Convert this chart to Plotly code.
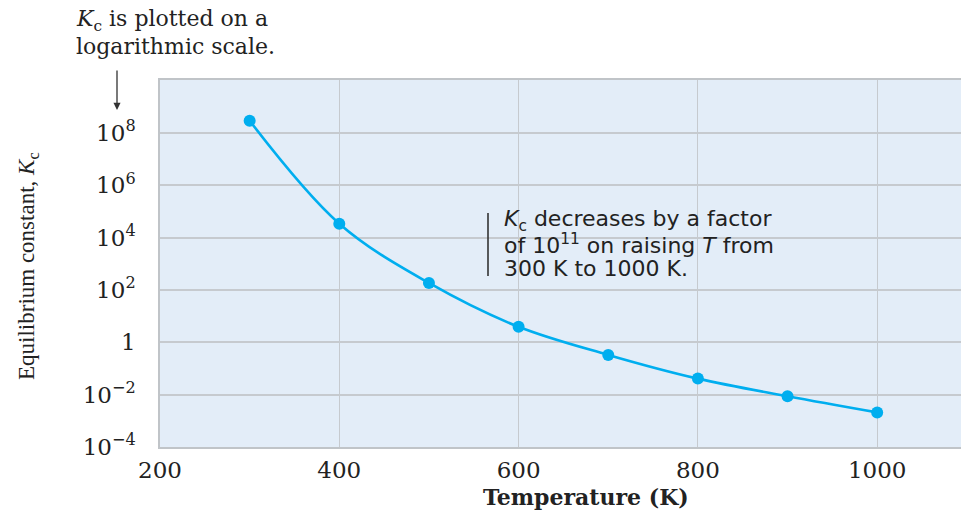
import plotly.graph_objects as go

# Data
temperature_K = [300, 400, 500, 600, 700, 800, 900, 1000]
Kc = [2.9e8, 3.4e4, 185, 3.9, 0.33, 0.041, 0.0087, 0.0021]

y_tickvals = [1e-4, 1e-2, 1, 1e2, 1e4, 1e6, 1e8]
y_ticktext = ["10<sup>−4</sup>", "10<sup>−2</sup>", "1", "10<sup>2</sup>",
              "10<sup>4</sup>", "10<sup>6</sup>", "10<sup>8</sup>"]
x_tickvals = [200, 400, 600, 800, 1000]

top_note_lines = ["<i>K</i><sub>c</sub> is plotted on a", "logarithmic scale."]
plot_note_lines = ["<i>K</i><sub>c</sub> decreases by a factor",
                   "of 10<sup>11</sup> on raising <i>T</i> from",
                   "300 K to 1000 K."]

LINE_COLOR = "#00aeef"
GRID = "#c6cacf"
SERIF = "DejaVu Serif"
TEXT = "#222222"

# plot area in pixels: left 160, top 80, bottom 447, height 367, width 801
def px_x(p):
    return (p - 160) / 801.0

def px_y(p):
    return (447 - p) / 367.0

fig = go.Figure()
fig.add_trace(go.Scatter(
    x=temperature_K, y=Kc, mode="lines+markers",
    line=dict(color=LINE_COLOR, width=2.6, shape="spline", smoothing=1.0),
    marker=dict(color=LINE_COLOR, size=12),
    showlegend=False, hoverinfo="x+y",
))

fig.update_layout(
    width=961, height=512,
    margin=dict(l=160, r=0, t=80, b=65),
    paper_bgcolor="white",
    plot_bgcolor="#e3edf8",
    font=dict(family=SERIF, color=TEXT),
    xaxis=dict(
        range=[200, 1093.5], tickvals=x_tickvals,
        showgrid=True, gridcolor=GRID, gridwidth=1,
        showline=True, linecolor="#c0c4c8", linewidth=1.5, mirror=True,
        ticks="", ticklabelstandoff=2,
        tickfont=dict(family=SERIF, size=23, color=TEXT),
        zeroline=False,
    ),
    yaxis=dict(
        type="log", range=[-4, 10.02],
        tickvals=y_tickvals, ticktext=y_ticktext,
        showgrid=True, gridcolor=GRID, gridwidth=1.5,
        showline=True, linecolor="#c0c4c8", linewidth=1.5,
        ticks="", ticklabelstandoff=18,
        tickfont=dict(family=SERIF, size=23, color=TEXT),
        zeroline=False,
    ),
)

# X axis title
fig.add_annotation(
    xref="paper", yref="paper", x=px_x(586), y=px_y(497),
    text="<b>Temperature (K)</b>", showarrow=False,
    xanchor="center", yanchor="middle",
    font=dict(family=SERIF, size=22, color=TEXT),
)

# Y axis title (condensed serif, rotated)
fig.add_annotation(
    xref="paper", yref="paper", x=px_x(28), y=px_y(266),
    text="Equilibrium constant, <i>K</i><sub>c</sub>",
    textangle=-90, showarrow=False,
    font=dict(family="Liberation Serif", size=23, color=TEXT),
    xanchor="center", yanchor="middle",
)

# Top note (one annotation per line for tight line spacing)
for i, line in enumerate(top_note_lines):
    fig.add_annotation(
        xref="paper", yref="paper", x=px_x(74), y=px_y(21 + 26 * i),
        text=line, showarrow=False, xanchor="left", yanchor="middle",
        font=dict(family=SERIF, size=22, color=TEXT),
    )

# Arrow pointing down to the log axis
fig.add_annotation(
    xref="paper", yref="paper", x=px_x(117), y=px_y(110),
    ax=0, ay=-41, text="", showarrow=True,
    arrowhead=2, arrowsize=1.1, arrowwidth=1.3, arrowcolor="#333333",
)

# In-plot note
for i, line in enumerate(plot_note_lines):
    fig.add_annotation(
        xref="paper", yref="paper", x=px_x(502), y=px_y(220 + 24 * i),
        text=line, showarrow=False, xanchor="left", yanchor="middle",
        font=dict(family="DejaVu Sans", size=22, color=TEXT),
    )
fig.add_shape(
    type="line", xref="paper", yref="paper",
    x0=px_x(488), x1=px_x(488), y0=px_y(276), y1=px_y(213),
    line=dict(color="#333333", width=1.6),
)

fig.write_html("out.html", config={"displayModeBar": False},
               post_script="document.body.style.margin='0';")
